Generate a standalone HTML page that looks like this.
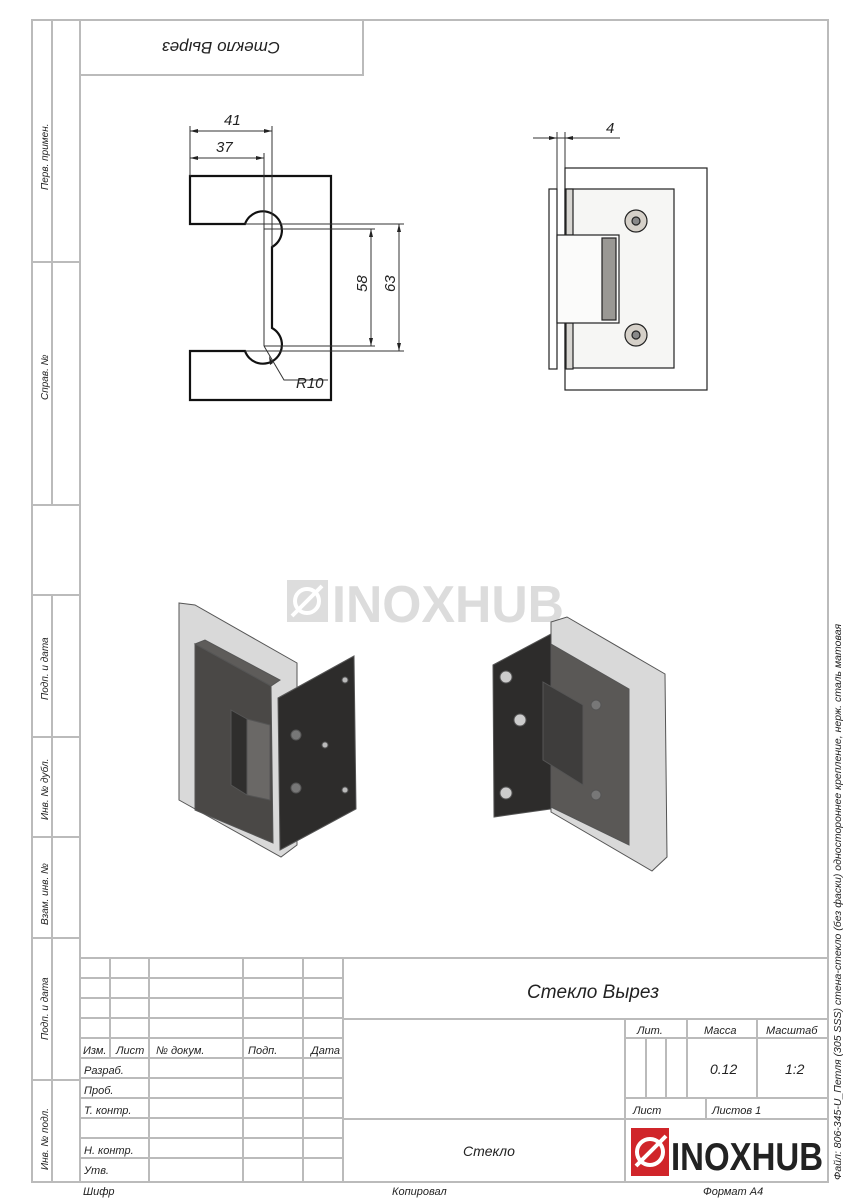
<!DOCTYPE html>
<html><head><meta charset="utf-8"><style>
html,body{margin:0;padding:0;background:#fff;}
svg{display:block;}
text{font-family:"Liberation Sans","DejaVu Sans",sans-serif;font-style:italic;fill:#222;}
</style></head><body>
<svg width="848" height="1200" viewBox="0 0 848 1200" xmlns="http://www.w3.org/2000/svg">
<g stroke="#bbb" stroke-width="2" fill="none">
<rect x="32" y="20" width="796" height="1162"/>
<line x1="80" y1="20" x2="80" y2="1182"/>
<line x1="52" y1="20" x2="52" y2="505"/>
<line x1="32" y1="262" x2="80" y2="262"/>
<line x1="32" y1="505" x2="80" y2="505"/>
<line x1="32" y1="595" x2="80" y2="595"/>
<line x1="52" y1="595" x2="52" y2="1182"/>
<line x1="32" y1="737" x2="80" y2="737"/>
<line x1="32" y1="837" x2="80" y2="837"/>
<line x1="32" y1="938" x2="80" y2="938"/>
<line x1="32" y1="1080" x2="80" y2="1080"/>
<polyline points="80,75 363,75 363,20"/>
<line x1="80" y1="958" x2="828" y2="958"/>
<line x1="343" y1="958" x2="343" y2="1182"/>
<line x1="80" y1="978" x2="343" y2="978"/>
<line x1="80" y1="998" x2="343" y2="998"/>
<line x1="80" y1="1018" x2="343" y2="1018"/>
<line x1="80" y1="1038" x2="343" y2="1038"/>
<line x1="80" y1="1058" x2="343" y2="1058"/>
<line x1="80" y1="1078" x2="343" y2="1078"/>
<line x1="80" y1="1098" x2="343" y2="1098"/>
<line x1="80" y1="1118" x2="343" y2="1118"/>
<line x1="80" y1="1138" x2="343" y2="1138"/>
<line x1="80" y1="1158" x2="343" y2="1158"/>
<line x1="110" y1="958" x2="110" y2="1058"/>
<line x1="149" y1="958" x2="149" y2="1182"/>
<line x1="243" y1="958" x2="243" y2="1182"/>
<line x1="303" y1="958" x2="303" y2="1182"/>
<line x1="343" y1="1019" x2="828" y2="1019"/>
<line x1="343" y1="1119" x2="828" y2="1119"/>
<line x1="625" y1="1019" x2="625" y2="1182"/>
<line x1="625" y1="1038" x2="828" y2="1038"/>
<line x1="625" y1="1098" x2="828" y2="1098"/>
<line x1="687" y1="1019" x2="687" y2="1098"/>
<line x1="757" y1="1019" x2="757" y2="1098"/>
<line x1="706" y1="1098" x2="706" y2="1119"/>
<line x1="646" y1="1038" x2="646" y2="1098"/>
<line x1="666" y1="1038" x2="666" y2="1098"/>
</g>
<g font-size="11">
<text x="48" y="190" transform="rotate(-90 48 190)" font-size="10">Перв. примен.</text>
<text x="48" y="400" transform="rotate(-90 48 400)" font-size="10">Справ. №</text>
<text x="48" y="700" transform="rotate(-90 48 700)" font-size="10">Подп. и дата</text>
<text x="48" y="820" transform="rotate(-90 48 820)" font-size="10">Инв. № дубл.</text>
<text x="48" y="925" transform="rotate(-90 48 925)" font-size="10">Взам. инв. №</text>
<text x="48" y="1040" transform="rotate(-90 48 1040)" font-size="10">Подп. и дата</text>
<text x="48" y="1170" transform="rotate(-90 48 1170)" font-size="10">Инв. № подл.</text>
<text x="221" y="54" font-size="17" text-anchor="middle" transform="rotate(180 221 48)">Стекло Вырез</text>
<text x="83" y="1054">Изм.</text><text x="116" y="1054">Лист</text><text x="156" y="1054">№ докум.</text><text x="248" y="1054">Подп.</text><text x="311" y="1054">Дата</text>
<text x="84" y="1074">Разраб.</text><text x="84" y="1094">Проб.</text><text x="84" y="1114">Т. контр.</text><text x="84" y="1154">Н. контр.</text><text x="84" y="1174">Утв.</text>
<text x="527" y="998" font-size="19">Стекло Вырез</text>
<text x="463" y="1156" font-size="14">Стекло</text>
<text x="637" y="1034">Лит.</text><text x="704" y="1034">Масса</text><text x="766" y="1034">Масштаб</text>
<text x="710" y="1074" font-size="14">0.12</text><text x="785" y="1074" font-size="14">1:2</text>
<text x="633" y="1114">Лист</text><text x="712" y="1114">Листов 1</text>
<text x="83" y="1195">Шифр</text><text x="392" y="1195">Копировал</text><text x="703" y="1195">Формат А4</text>
<text x="841" y="1180" transform="rotate(-90 841 1180)" font-size="10.5">Файл: 806-345-U_Петля (305 SSS) стена-стекло (без фаски) одностороннее крепление, нерж. сталь матовая</text>
</g>
<!-- logo -->
<rect x="631" y="1128" width="38" height="48" fill="#d0252a"/>
<circle cx="650" cy="1152" r="13" fill="none" stroke="#fff" stroke-width="4"/>
<line x1="636" y1="1166" x2="666" y2="1136" stroke="#fff" stroke-width="4"/>
<text x="671" y="1170" style="font-size:39px;font-weight:bold;font-style:normal;fill:#222" textLength="152" lengthAdjust="spacingAndGlyphs">INOXHUB</text>
<!-- watermark -->
<rect x="287" y="580" width="41" height="42" fill="#ddd"/>
<circle cx="307" cy="601" r="12" fill="none" stroke="#fff" stroke-width="4"/>
<line x1="292" y1="616" x2="322" y2="586" stroke="#fff" stroke-width="4"/>
<text x="332" y="622" style="font-size:52px;font-weight:bold;font-style:normal;fill:#dcdcdc" textLength="232" lengthAdjust="spacingAndGlyphs">INOXHUB</text>
<!-- cutout drawing -->
<path d="M190,176 H331 V400 H190 V351 H245 A19,19 0 1 0 272,328 V247 A19,19 0 1 0 245,224 H190 Z" fill="none" stroke="#111" stroke-width="2.2"/>
<g stroke="#333" stroke-width="1" fill="none">
<line x1="190" y1="126" x2="190" y2="176"/><line x1="272" y1="126" x2="272" y2="247"/><line x1="264" y1="153" x2="264" y2="346"/>
<line x1="190" y1="131" x2="272" y2="131"/><line x1="190" y1="158" x2="264" y2="158"/>
<line x1="264" y1="229" x2="375" y2="229"/><line x1="245" y1="224" x2="404" y2="224"/>
<line x1="264" y1="346" x2="375" y2="346"/><line x1="245" y1="351" x2="404" y2="351"/>
<line x1="371" y1="229" x2="371" y2="346"/><line x1="399" y1="224" x2="399" y2="351"/>
<polyline points="264,346 284,380 328,380"/>
<line x1="545" y1="138" x2="620" y2="138"/><line x1="533" y1="138" x2="557" y2="138"/>
<line x1="557" y1="132" x2="557" y2="189"/><line x1="565" y1="132" x2="565" y2="168"/>
</g>
<g fill="#222">
<path d="M190,131 l8,-2 v4z M272,131 l-8,-2 v4z M190,158 l8,-2 v4z M264,158 l-8,-2 v4z"/>
<path d="M371,229 l-2,8 h4z M371,346 l-2,-8 h4z M399,224 l-2,8 h4z M399,351 l-2,-8 h4z M269,356 l1,9 l3,-2z"/>
<path d="M557,138 l-8,-2 v4z M565,138 l8,-2 v4z"/>
</g>
<g font-size="15">
<text x="224" y="125">41</text><text x="216" y="152">37</text>
<text x="367" y="292" transform="rotate(-90 367 292)">58</text>
<text x="395" y="292" transform="rotate(-90 395 292)">63</text>
<text x="296" y="388">R10</text><text x="606" y="133">4</text>
</g>
<!-- side view -->
<g stroke="#222" stroke-width="1.2">
<rect x="565" y="168" width="142" height="222" fill="#fff"/>
<rect x="565" y="189" width="109" height="179" fill="#f6f6f4"/>
<rect x="549" y="189" width="8" height="180" fill="#fff"/>
<rect x="566" y="189" width="7" height="46" fill="#d8d6d2"/>
<rect x="566" y="323" width="7" height="46" fill="#d8d6d2"/>
<rect x="557" y="235" width="62" height="88" fill="#fbfbfa"/>
<rect x="602" y="238" width="14" height="82" fill="#9a9894"/>
<circle cx="636" cy="221" r="11" fill="#d5d0c8"/><circle cx="636" cy="221" r="4" fill="#888"/>
<circle cx="636" cy="335" r="11" fill="#d5d0c8"/><circle cx="636" cy="335" r="4" fill="#888"/>
</g>
<!-- 3D left -->
<g stroke="#555" stroke-width="1">
<polygon points="179,603 195,605 297,663 297,845 281,857 179,800" fill="#cfcfcf" fill-opacity="0.8"/>
<polygon points="195,644 271,686 273,843 195,810" fill="#4a4846"/>
<polygon points="195,644 205,640 280,680 271,686" fill="#5e5c5a"/>
<polygon points="231,710 247,719 247,795 231,785" fill="#2f2e2d"/>
<polygon points="247,719 270,725 270,800 247,795" fill="#6a6866"/>
<polygon points="278,698 354,656 356,809 280,850" fill="#2d2c2b"/>
<circle cx="296" cy="735" r="5" fill="#777"/><circle cx="296" cy="788" r="5" fill="#777"/>
<circle cx="325" cy="745" r="3" fill="#bbb"/><circle cx="345" cy="680" r="3" fill="#bbb"/><circle cx="345" cy="790" r="3" fill="#bbb"/>
</g>
<!-- 3D right -->
<g stroke="#555" stroke-width="1">
<polygon points="551,622 567,617 665,674 667,857 652,871 551,812" fill="#cfcfcf" fill-opacity="0.8"/>
<polygon points="493,665 551,634 551,809 494,817" fill="#2d2c2b"/>
<polygon points="551,644 629,689 629,845 551,807" fill="#5a5856"/>
<polygon points="543,682 583,705 583,785 543,760" fill="#3e3d3c"/>
<circle cx="506" cy="677" r="6" fill="#ccc"/><circle cx="520" cy="720" r="6" fill="#ccc"/><circle cx="506" cy="793" r="6" fill="#ccc"/>
<circle cx="596" cy="705" r="5" fill="#777"/><circle cx="596" cy="795" r="5" fill="#777"/>
</g>
</svg>
</body></html>
